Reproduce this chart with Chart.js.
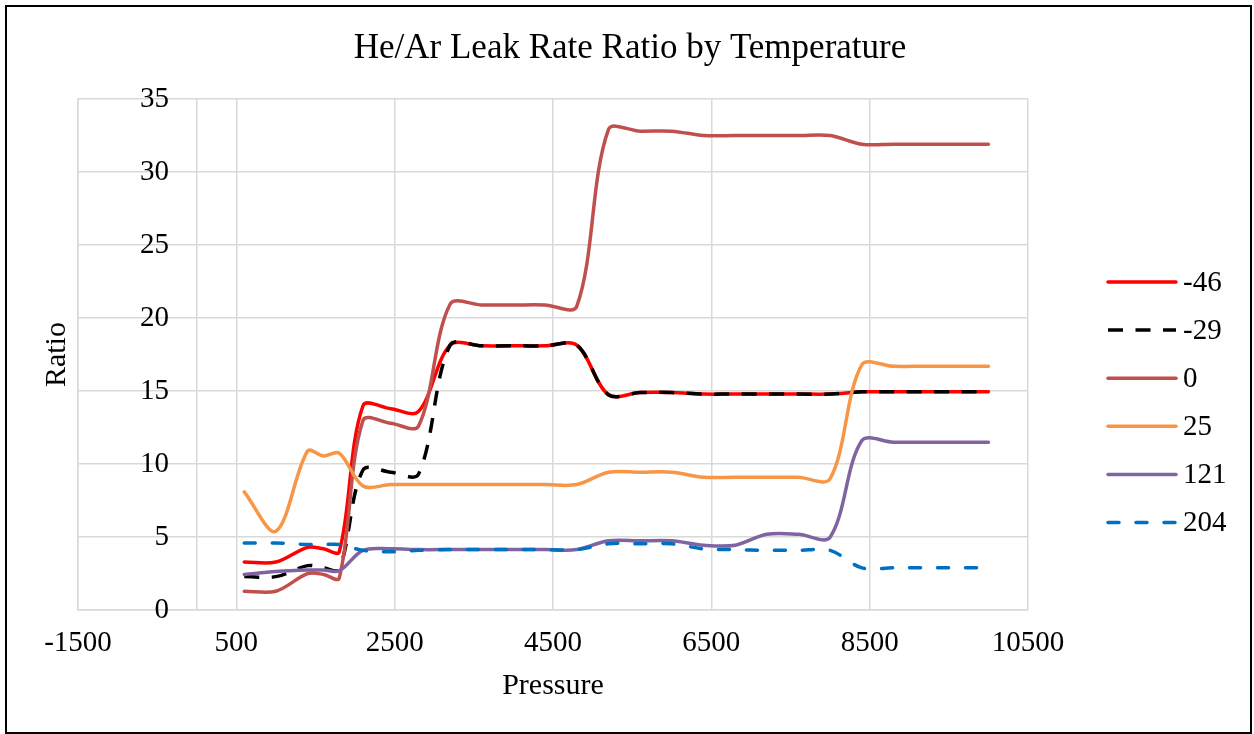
<!DOCTYPE html>
<html>
<head>
<meta charset="utf-8">
<title>He/Ar Leak Rate Ratio by Temperature</title>
<script src="https://cdn.jsdelivr.net/npm/chart.js@4.4.1/dist/chart.umd.min.js"></script>
<style>
    html, body { margin: 0; padding: 0; background: #fff; }
    #wrap { width: 1254px; height: 734px; }
</style>
</head>
<body>
<div id="wrap"><canvas id="leakChart" width="1254" height="734"></canvas></div>
<script>
// pressure steps, shared by every temperature run
const pressure = [600, 1000, 1400, 1600, 1800, 2100, 2450, 2800, 3200, 3600, 4000, 4400, 4800,
                  5200, 5600, 6000, 6400, 6800, 7200, 7600, 8000, 8400, 8800, 9200, 9600, 10000];

// He/Ar ratio per temperature
const ratioM46 = [3.3, 3.3, 4.3, 4.2, 4.0, 14.0, 13.8, 13.6, 18.15, 18.1, 18.1, 18.1, 18.15,
                  14.75, 14.9, 14.9, 14.8, 14.8, 14.8, 14.8, 14.8, 14.95, 14.95, 14.95, 14.95, 14.95];
const ratioM29 = [2.3, 2.3, 3.05, 2.9, 2.8, 9.6, 9.45, 9.3, 18.15, 18.1, 18.1, 18.1, 18.15,
                  14.75, 14.9, 14.9, 14.8, 14.8, 14.8, 14.8, 14.8, 14.95, 14.95, 14.95, 14.95, 14.95];
const ratio0   = [1.3, 1.3, 2.5, 2.45, 2.2, 13.0, 12.8, 12.6, 20.95, 20.9, 20.9, 20.9, 20.8,
                  32.9, 32.8, 32.8, 32.5, 32.5, 32.5, 32.5, 32.5, 31.9, 31.9, 31.9, 31.9, 31.9];
const ratio25  = [8.1, 5.4, 10.9, 10.55, 10.75, 8.5, 8.6, 8.6, 8.6, 8.6, 8.6, 8.6, 8.6,
                  9.45, 9.45, 9.45, 9.1, 9.1, 9.1, 9.1, 9.0, 16.8, 16.7, 16.7, 16.7, 16.7];
const ratio121 = [2.45, 2.65, 2.75, 2.75, 2.7, 4.1, 4.2, 4.15, 4.15, 4.15, 4.15, 4.15, 4.15,
                  4.75, 4.75, 4.75, 4.45, 4.45, 5.2, 5.2, 5.0, 11.6, 11.5, 11.5, 11.5, 11.5];
const ratio204 = [4.6, 4.6, 4.5, 4.5, 4.5, 4.1, 4.0, 4.1, 4.15, 4.15, 4.15, 4.15, 4.15,
                  4.55, 4.55, 4.55, 4.2, 4.15, 4.1, 4.1, 4.1, 2.9, 2.9, 2.9, 2.9, 2.9];

const temps = ['-46', '-29', '0', '25', '121', '204'];

// axis ranges and tick steps
const xMin = -1500, xMax = 10500, xStep = 2000;
const yMin = 0, yMax = 35, yStep = 5;

const serif = "'Liberation Serif', 'Times New Roman', serif";
const gridGray = '#d9d9d9';

function pts(vals) {
    return pressure.map(function (p, i) { return { x: p, y: vals[i] }; });
}

function series(i, vals, color, dash, cap) {
    return {
        label: temps[i],
        data: pts(vals),
        borderColor: color,
        backgroundColor: color,
        borderWidth: 3.5,
        borderDash: dash,
        borderCapStyle: cap,
        borderJoinStyle: 'round',
        pointRadius: 0,
        tension: 0.33,
        order: 5 - i // later series on top
    };
}

// outer frame + key on the right
const frameAndKey = {
    id: 'frameAndKey',
    afterDraw(chart) {
        const ctx = chart.ctx;
        ctx.save();
        ctx.strokeStyle = '#000';
        ctx.lineWidth = 2;
        ctx.strokeRect(6, 6, 1245, 727);

        ctx.font = '29px ' + serif;
        ctx.textBaseline = 'middle';
        ctx.textAlign = 'left';
        chart.data.datasets.forEach(function (ds, i) {
            const y = 282 + i * 48.1;
            ctx.beginPath();
            ctx.setLineDash(ds.borderDash);
            ctx.lineCap = ds.borderCapStyle;
            ctx.strokeStyle = ds.borderColor;
            ctx.lineWidth = ds.borderWidth;
            ctx.moveTo(1108, y);
            ctx.lineTo(1176, y);
            ctx.stroke();
            ctx.setLineDash([]);
            ctx.fillStyle = '#000';
            ctx.fillText(ds.label, 1183, y + 1);
        });
        ctx.restore();
    }
};

Chart.defaults.font.family = serif;
Chart.defaults.font.size = 29;
Chart.defaults.color = '#000';

new Chart(document.getElementById('leakChart').getContext('2d'), {
    type: 'line',
    data: {
        datasets: [
            series(0, ratioM46, '#ff0000', [], 'round'),
            series(1, ratioM29, '#000000', [15, 12.5], 'butt'),
            series(2, ratio0, '#c0504d', [], 'round'),
            series(3, ratio25, '#f79646', [], 'round'),
            series(4, ratio121, '#8064a2', [], 'round'),
            series(5, ratio204, '#0070c0', [11, 17], 'round')
        ]
    },
    options: {
        responsive: false,
        animation: false,
        layout: { padding: { left: 20, right: 14, top: 7, bottom: 10 } },
        plugins: {
            legend: { display: false },
            tooltip: { enabled: false },
            title: {
                display: true,
                text: 'He/Ar Leak Rate Ratio by Temperature',
                font: { size: 35, weight: 'normal' },
                color: '#000',
                padding: { top: 21, bottom: 29 }
            }
        },
        scales: {
            x: {
                type: 'linear',
                min: xMin,
                max: xMax,
                ticks: {
                    stepSize: xStep,
                    padding: 16,
                    autoSkip: false,
                    maxRotation: 0,
                    callback: function (v) { return v === 0 ? '' : String(v); }
                },
                // extra line where the value axis crosses (x = 0)
                afterBuildTicks: function (s) {
                    s.ticks.push({ value: 0 });
                    s.ticks.sort(function (a, b) { return a.value - b.value; });
                },
                grid: { color: gridGray, lineWidth: 1.5, drawTicks: false },
                border: { color: gridGray, width: 1.5 },
                title: {
                    display: true, text: 'Pressure', font: { size: 30 },
                    padding: { top: -9, bottom: 20 }
                }
            },
            y: {
                min: yMin,
                max: yMax,
                ticks: {
                    stepSize: yStep,
                    mirror: true,       // labels sit inside the plot, right of the frame
                    crossAlign: 'far',
                    padding: 62,
                    callback: function (v) { return String(v); }
                },
                grid: { color: gridGray, lineWidth: 1.5, drawTicks: false },
                border: { color: gridGray, width: 1.5 },
                title: {
                    display: true, text: 'Ratio', font: { size: 30 },
                    padding: { top: 19, bottom: 0 }
                },
                afterFit: function (s) { s.width = 58; }
            },
            // empty column that keeps room for the key
            keySpace: {
                type: 'linear',
                position: 'right',
                display: true,
                ticks: { display: false },
                grid: { display: false },
                border: { display: false },
                afterFit: function (s) { s.width = 212; }
            }
        }
    },
    plugins: [frameAndKey]
});
</script>
</body>
</html>
